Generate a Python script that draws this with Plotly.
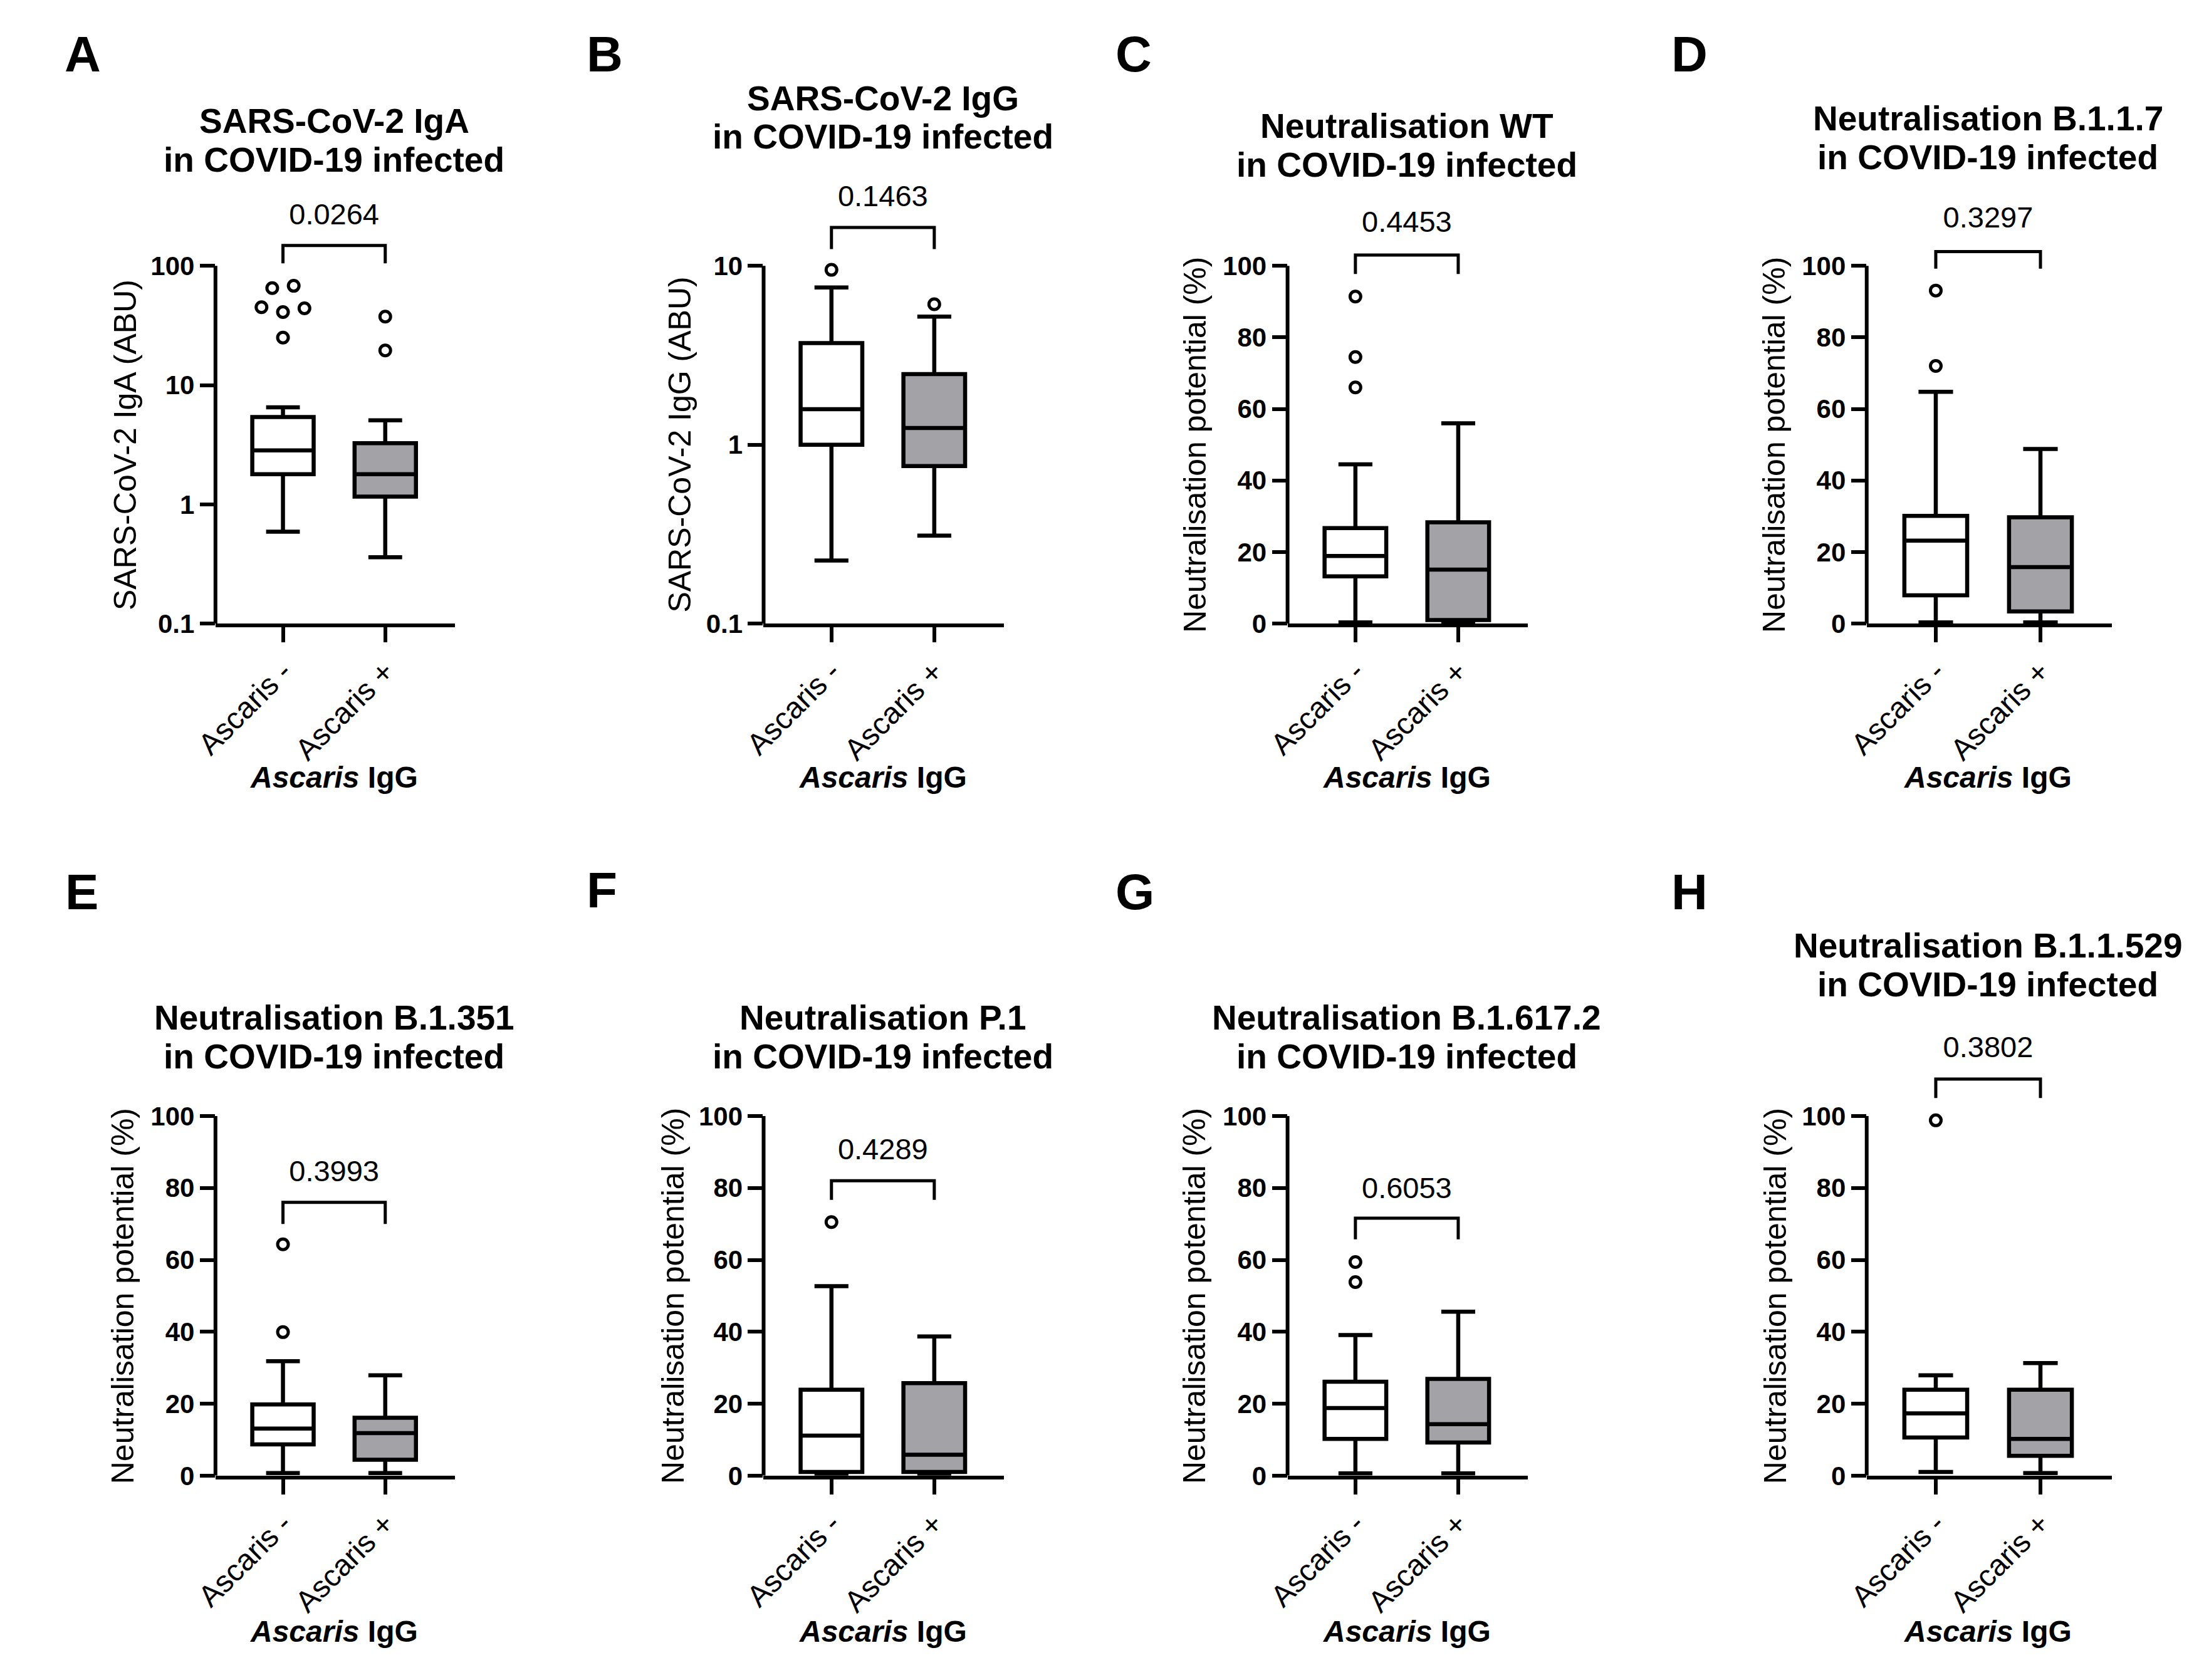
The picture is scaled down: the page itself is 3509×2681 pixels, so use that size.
import math
import plotly.graph_objects as go

W, H = 3509, 2681

# ---- data ----
panel_letters = ["A", "B", "C", "D", "E", "F", "G", "H"]
titles = ["SARS-CoV-2 IgA", "SARS-CoV-2 IgG", "Neutralisation WT", "Neutralisation B.1.1.7",
          "Neutralisation B.1.351", "Neutralisation P.1", "Neutralisation B.1.617.2",
          "Neutralisation B.1.1.529"]
subtitle = "in COVID-19 infected"
y_titles = ["SARS-CoV-2 IgA (ABU)", "SARS-CoV-2 IgG (ABU)"] + ["Neutralisation potential (%)"] * 6
groups = ["Ascaris -", "Ascaris +"]
p_values = ["0.0264", "0.1463", "0.4453", "0.3297", "0.3993", "0.4289", "0.6053", "0.3802"]

whisker_low = [[0.59, 0.36], [0.225, 0.31], [0.3, 0.2], [0.3, 0.3],
               [0.7, 0.7], [0.2, 0.2], [0.6, 0.6], [1.0, 0.7]]
q1 = [[1.79, 1.16], [1.0, 0.76], [13.2, 1.0], [7.9, 3.4],
      [8.7, 4.4], [1.0, 1.0], [10.2, 9.2], [10.6, 5.5]]
median = [[2.83, 1.79], [1.58, 1.24], [18.9, 15.1], [23.2, 15.8],
          [13.1, 11.8], [11.1, 5.8], [18.8, 14.3], [17.3, 10.2]]
q3 = [[5.4, 3.26], [3.7, 2.48], [26.7, 28.3], [30.1, 29.7],
      [19.8, 16.1], [23.9, 25.7], [26.1, 26.9], [23.9, 23.9]]
whisker_high = [[6.5, 5.06], [7.57, 5.2], [44.5, 56.0], [64.8, 48.8],
                [31.8, 27.9], [52.7, 38.7], [39.1, 45.6], [27.9, 31.3]]
outliers = [
    [[45, 41, 44, 65, 68, 25], [37.5, 19.5]],
    [[9.5], [6.1]],
    [[91.4, 74.5, 66.0], []],
    [[93.1, 72.0], []],
    [[64.3, 39.9], []],
    [[70.5], []],
    [[59.4, 53.8], []],
    [[98.8], []],
]

# bracket / p-value label heights (data units)
bracket_top = [148, 16.4, 103, 104, 76, 82, 71.6, 110.3]
bracket_leg = [105, 12.4, 97.7, 99.2, 70, 76.7, 65.7, 105]
p_text_y = [258, 23.7, 111.5, 112.8, 84, 90, 79.3, 118.5]

# ---- layout (pixels) ----
col_px = [(302, 688), (1186, 1574), (2031, 2419), (2965, 3360)]
row_px = [(420, 996), (1789, 2368)]          # axis top, axis bottom
title_y = [187, 150, 195, 183, 1631, 1631, 1631, 1515]
letter_xy = [(88, 79), (930, 79), (1783, 79), (2679, 79),
             (86, 1428), (925, 1425), (1785, 1428), (2679, 1428)]
xtitle_y = [1244, 2619]
ytitle_gap = [146, 135, 150, 150, 149, 146, 150, 147]

FONT = "Liberation Sans"
fills = ["white", "#a3a3a7"]
XR = [-0.66, 1.68]
EXTRA = 0.24


def dodge(vals, log, span):
    # spread outliers sideways when they sit on top of each other
    tv = [(math.log10(v) if log else v) for v in vals]
    order = sorted(range(len(vals)), key=lambda k: tv[k])
    grp, cur = [], []
    for k in order:
        if cur and tv[k] - tv[cur[-1]] > 0.04 * span:
            grp.append(cur)
            cur = []
        cur.append(k)
    if cur:
        grp.append(cur)
    off = [0.0] * len(vals)
    for g in grp:
        g = sorted(g)
        for j, k in enumerate(g):
            off[k] = (j - (len(g) - 1) / 2) * 0.21
    return off


fig = go.Figure()
shapes, annotations = [], []
layout = {}

for i in range(8):
    n = "" if i == 0 else str(i + 1)
    xa, ya = "x" + n, "y" + n
    row, col = divmod(i, 4)
    x0, x1 = col_px[col]
    ytop, ybot = row_px[row]
    log = i < 2
    if log:
        lo, hi = -1, (2 if i == 0 else 1)
        tickvals = [10 ** k for k in range(lo, hi + 1)]
        ticktext = ["0.1", "1", "10", "100"][: len(tickvals)]
    else:
        lo, hi = 0, 100
        tickvals = [0, 20, 40, 60, 80, 100]
        ticktext = [str(v) for v in tickvals]
    span = hi - lo
    dom_top = ytop - EXTRA * (ybot - ytop)

    for g in range(2):
        fig.add_trace(go.Box(
            x=[g], q1=[q1[i][g]], median=[median[i][g]], q3=[q3[i][g]],
            lowerfence=[whisker_low[i][g]], upperfence=[whisker_high[i][g]],
            width=0.6, whiskerwidth=0.55, fillcolor=fills[g],
            line=dict(color="black", width=6.5), boxpoints=False,
            xaxis=xa, yaxis=ya, showlegend=False, hoverinfo="skip"))
        vals = outliers[i][g]
        if vals:
            off = dodge(vals, log, span)
            fig.add_trace(go.Scatter(
                x=[g + o for o in off], y=vals, mode="markers",
                marker=dict(symbol="circle-open", size=17, color="black",
                            line=dict(width=5, color="black")),
                cliponaxis=False, xaxis=xa, yaxis=ya, showlegend=False, hoverinfo="skip"))

    fig.add_trace(go.Scatter(
        x=[0, 0, 1, 1], y=[bracket_leg[i], bracket_top[i], bracket_top[i], bracket_leg[i]],
        mode="lines", line=dict(color="black", width=5),
        xaxis=xa, yaxis=ya, showlegend=False, hoverinfo="skip"))
    fig.add_trace(go.Scatter(
        x=[0.5], y=[p_text_y[i]], text=[p_values[i]], mode="text",
        textposition="middle center",
        textfont=dict(family=FONT, size=47, color="black"),
        cliponaxis=False, xaxis=xa, yaxis=ya, showlegend=False, hoverinfo="skip"))

    layout["xaxis" + n] = dict(
        domain=[x0 / W, x1 / W], range=XR, anchor=ya,
        showline=True, linewidth=5.5, linecolor="black",
        ticks="outside", ticklen=24, tickwidth=5.5, tickcolor="black",
        tickvals=[0, 1], ticktext=groups, tickangle=-45,
        tickfont=dict(family=FONT, size=48, color="black"),
        showgrid=False, zeroline=False)
    layout["yaxis" + n] = dict(
        domain=[1 - ybot / H, 1 - dom_top / H], anchor=xa,
        type="log" if log else "linear",
        range=[lo, hi + EXTRA * span],
        showline=False, ticks="outside", ticklen=24, tickwidth=5.5, tickcolor="black",
        tickvals=tickvals, ticktext=ticktext,
        tickfont=dict(family=FONT, size=42, color="black", weight="bold"),
        showgrid=False, zeroline=False)

    # y-axis spine only up to the top tick
    shapes.append(dict(type="line", xref=xa + " domain", yref=ya, x0=0, x1=0,
                       y0=tickvals[0], y1=tickvals[-1],
                       line=dict(color="black", width=6)))

    for k, txt in enumerate([titles[i], subtitle]):
        annotations.append(dict(xref=xa, yref="paper", x=0.5, y=1 - (title_y[i] + 62 * k) / H,
                                text="<b>" + txt + "</b>", showarrow=False,
                                xanchor="center", yanchor="middle",
                                font=dict(family=FONT, size=55, color="black")))
    lx, ly = letter_xy[i]
    annotations.append(dict(xref="paper", yref="paper", x=lx / W, y=1 - ly / H,
                            text="<b>" + panel_letters[i] + "</b>", showarrow=False,
                            xanchor="center", yanchor="middle",
                            font=dict(family=FONT, size=80, color="black")))
    annotations.append(dict(xref=xa, yref="paper", x=0.5, y=1 - xtitle_y[row] / H,
                            text="<b><i>Ascaris</i> IgG</b>", showarrow=False,
                            xanchor="center", yanchor="middle",
                            font=dict(family=FONT, size=48, color="black")))
    annotations.append(dict(xref="paper", yref="paper", x=(x0 - ytitle_gap[i]) / W,
                            y=1 - (ytop + ybot) / 2 / H, text=y_titles[i], textangle=-90,
                            showarrow=False, xanchor="center", yanchor="middle",
                            font=dict(family=FONT, size=50, color="black")))

fig.update_layout(
    width=W, height=H, margin=dict(l=0, r=0, t=0, b=0),
    paper_bgcolor="white", plot_bgcolor="white",
    shapes=shapes, annotations=annotations, showlegend=False,
    **layout)

fig.write_html("out.html")
